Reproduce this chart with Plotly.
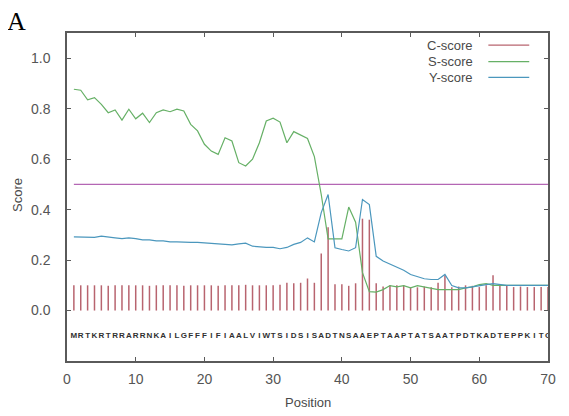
import plotly.graph_objects as go

# ---------------- data ----------------
sequence = list("MRTKRTRRARRNKAILGFFFIFIAALVIWTSIDSISADTNSAAEPTAAPTATSAATPDTKADTEPPKITG")
positions = list(range(1, 71))

c_score = [0.1, 0.1, 0.1, 0.1, 0.1, 0.098, 0.1, 0.1, 0.1, 0.1,
           0.1, 0.098, 0.1, 0.1, 0.1, 0.1, 0.098, 0.1, 0.1, 0.1,
           0.1, 0.098, 0.1, 0.1, 0.1, 0.102, 0.1, 0.1, 0.1, 0.1,
           0.102, 0.11, 0.108, 0.11, 0.127, 0.11, 0.226, 0.33, 0.104, 0.104,
           0.098, 0.108, 0.364, 0.36, 0.108, 0.095, 0.1, 0.1, 0.1, 0.092,
           0.092, 0.095, 0.092, 0.11, 0.14, 0.092, 0.095, 0.1, 0.098, 0.093,
           0.1, 0.14, 0.098, 0.1, 0.093, 0.095, 0.093, 0.093, 0.093, 0.093]

s_score = [0.877, 0.873, 0.835, 0.844, 0.817, 0.784, 0.795, 0.755, 0.798, 0.76,
           0.782, 0.745, 0.784, 0.795, 0.788, 0.798, 0.791, 0.738, 0.712, 0.659,
           0.632, 0.619, 0.685, 0.672, 0.586, 0.573, 0.6, 0.665, 0.751, 0.762,
           0.747, 0.665, 0.709, 0.695, 0.682, 0.61, 0.46, 0.284, 0.284, 0.284,
           0.41, 0.35, 0.15, 0.075, 0.073, 0.083, 0.099, 0.094, 0.099, 0.09,
           0.099, 0.094, 0.086, 0.083, 0.083, 0.083, 0.083, 0.09, 0.094, 0.103,
           0.107, 0.1, 0.1, 0.097, 0.1, 0.1, 0.1, 0.1, 0.1, 0.1]

y_score = [0.292, 0.292, 0.292, 0.29, 0.295, 0.29, 0.288, 0.285, 0.288, 0.285,
           0.28, 0.28, 0.276, 0.276, 0.272, 0.272, 0.27, 0.27, 0.27, 0.268,
           0.267, 0.265, 0.262, 0.26, 0.264, 0.267, 0.255, 0.252, 0.25, 0.25,
           0.245, 0.25, 0.262, 0.27, 0.288, 0.272, 0.388, 0.46, 0.249, 0.242,
           0.236, 0.249, 0.44, 0.42, 0.215, 0.196, 0.183, 0.17, 0.16, 0.143,
           0.134, 0.126, 0.123, 0.123, 0.143, 0.099, 0.09, 0.09, 0.094, 0.097,
           0.103, 0.107, 0.103, 0.1, 0.1, 0.1, 0.1, 0.1, 0.1, 0.1]

cutoff_x = [1, 70]
cutoff_y = [0.5, 0.5]

x_ticks = [0, 10, 20, 30, 40, 50, 60, 70]
y_ticks = [0.0, 0.2, 0.4, 0.6, 0.8, 1.0]
series_names = ["C-score", "S-score", "Y-score"]

# ---------------- style ----------------
C_COL = "#b8646f"
S_COL = "#66b066"
Y_COL = "#4b97bd"
P_COL = "#b466b4"
AX_COL = "#5a5a5a"
TXT_COL = "#4a4a4a"
FONT = "Liberation Sans, Arial, sans-serif"
SEQ_Y = -0.1

fig = go.Figure()

# C-score impulses
cx, cy = [], []
for p, v in zip(positions, c_score):
    cx += [p, p, None]
    cy += [0, v, None]
fig.add_trace(go.Scatter(x=cx, y=cy, mode="lines", line=dict(color=C_COL, width=1.5),
                         showlegend=False, hoverinfo="skip"))

# cutoff line
fig.add_trace(go.Scatter(x=cutoff_x, y=cutoff_y, mode="lines",
                         line=dict(color=P_COL, width=1.3), showlegend=False))

# S and Y scores
fig.add_trace(go.Scatter(x=positions, y=s_score, mode="lines",
                         line=dict(color=S_COL, width=1.2), showlegend=False))
fig.add_trace(go.Scatter(x=positions, y=y_score, mode="lines",
                         line=dict(color=Y_COL, width=1.2), showlegend=False))

# sequence letters
fig.add_trace(go.Scatter(x=positions, y=[SEQ_Y] * len(positions), mode="text",
                         text=sequence, textposition="middle center",
                         textfont=dict(family=FONT, size=8, color="#303030", weight="bold"),
                         showlegend=False, hoverinfo="skip"))

# custom gnuplot-style legend
legend_rows = [0.963, 0.9125, 0.865]
for name, col, yy in zip(series_names, [C_COL, S_COL, Y_COL], legend_rows):
    fig.add_annotation(x=0.848, y=yy, xref="paper", yref="paper", text=name,
                       showarrow=False, xanchor="right", yanchor="middle",
                       font=dict(family=FONT, size=13, color=TXT_COL))
    fig.add_shape(type="line", xref="paper", yref="paper", x0=0.876, x1=0.961,
                  y0=yy, y1=yy, line=dict(color=col, width=1.3))

# axis titles
fig.add_annotation(x=0.5, y=-0.128, xref="paper", yref="paper", text="Position",
                   showarrow=False, xanchor="center", yanchor="middle",
                   font=dict(family=FONT, size=13, color=TXT_COL))
fig.add_annotation(x=-0.104, y=0.506, xref="paper", yref="paper", text="Score",
                   showarrow=False, xanchor="center", yanchor="middle", textangle=-90,
                   font=dict(family=FONT, size=13, color=TXT_COL))

# panel label
fig.add_annotation(x=-0.128, y=1.036, xref="paper", yref="paper", text="A",
                   showarrow=False, xanchor="left", yanchor="middle",
                   font=dict(family="Liberation Serif, Times New Roman, serif", size=26, color="black"))

# page body has an 8px margin: size and margins compensate for it
fig.update_layout(
    width=561, height=408,
    margin=dict(l=59, r=21, t=25, b=55, autoexpand=False),
    paper_bgcolor="white", plot_bgcolor="white",
    font=dict(family=FONT, color=TXT_COL),
    showlegend=False,
)
fig.update_xaxes(range=[0, 70], tickvals=x_ticks, ticks="inside", ticklen=4,
                 tickcolor=AX_COL, showline=True, linecolor=AX_COL, linewidth=1.5,
                 mirror="ticks", showgrid=False, zeroline=False, automargin=False,
                 tickfont=dict(size=14, color="#555555"), ticklabelstandoff=4)
fig.update_yaxes(range=[-0.2, 1.1], tickvals=y_ticks, tickformat=".1f", ticks="inside",
                 ticklen=4, tickcolor=AX_COL, showline=True, linecolor=AX_COL, linewidth=1.5,
                 mirror="ticks", showgrid=False, zeroline=False, automargin=False,
                 tickfont=dict(size=14, color="#555555"), ticklabelstandoff=12)

fig.write_html("out.html")
